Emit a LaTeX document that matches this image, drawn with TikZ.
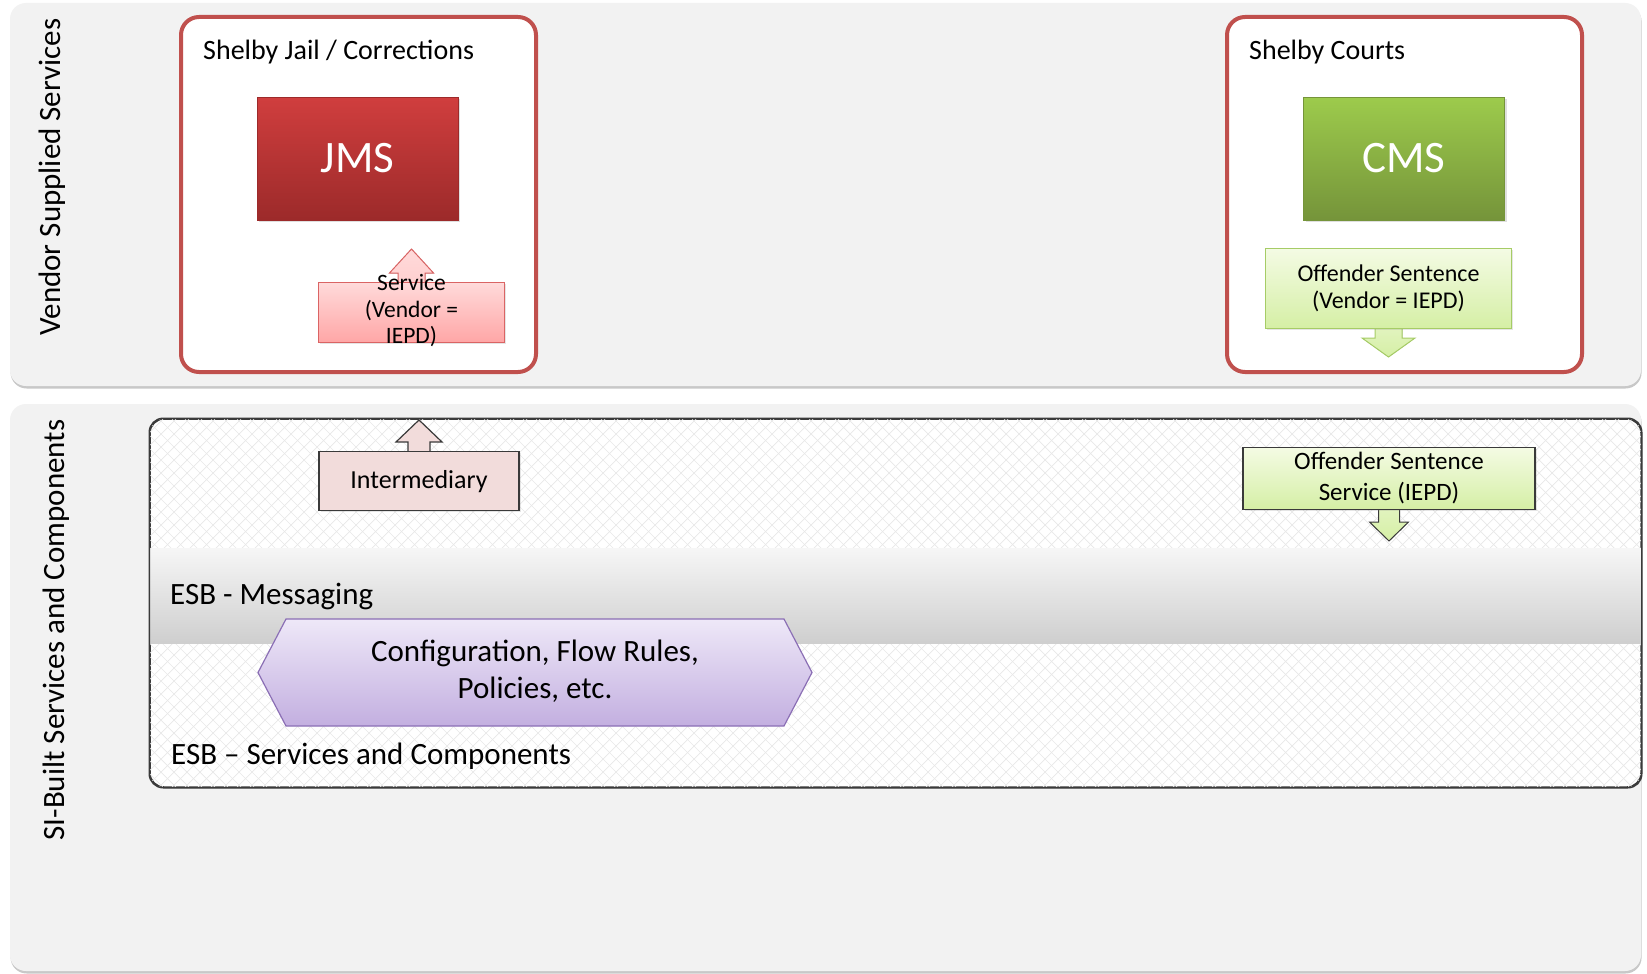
\documentclass[tikz,border=0pt]{standalone}
\usepackage{fontspec}
\setmainfont{Carlito}
\usetikzlibrary{calc,shadows}

\definecolor{panelgray}{HTML}{F2F2F2}
\definecolor{orgred}{HTML}{C0504D}
\definecolor{jmstop}{HTML}{D03E3E}
\definecolor{jmsbot}{HTML}{9C2A2A}
\definecolor{cmstop}{HTML}{9DCB4C}
\definecolor{cmsbot}{HTML}{75943A}
\definecolor{svctop}{HTML}{FFDADA}
\definecolor{svcbot}{HTML}{FFA6A6}
\definecolor{svcline}{HTML}{DA6464}
\definecolor{offtop}{HTML}{F4FBE4}
\definecolor{offbot}{HTML}{D5EFA5}
\definecolor{offline}{HTML}{A6CC66}
\definecolor{intfill}{HTML}{F2DCDB}
\definecolor{esbline}{HTML}{3A3A3A}
\definecolor{cfgtop}{HTML}{EEE8F8}
\definecolor{cfgbot}{HTML}{C3AFE0}
\definecolor{cfgline}{HTML}{8B6FB5}
\definecolor{hatchgray}{HTML}{E8E8E8}

\newcommand{\fsz}[2]{\fontsize{#1pt}{#2pt}\selectfont}

\begin{document}
\begin{tikzpicture}[x=1pt,y=-1pt,
  panel/.style={fill=panelgray,rounded corners=16pt,
    drop shadow={shadow xshift=0.6pt,shadow yshift=-2.5pt,opacity=0.3,fill=black!70}},
  org/.style={draw=orgred,line width=4pt,fill=white,rounded corners=18pt,
    minimum width=355pt,minimum height=355pt,inner sep=0pt},
  orgtitle/.style={anchor=west,inner sep=0pt,font=\fsz{28}{32}},
  sysbox/.style={minimum width=201pt,minimum height=123pt,inner sep=0pt,
    text=white,font=\fsz{45}{50},
    drop shadow={shadow xshift=2pt,shadow yshift=-2pt,opacity=0.25}},
  callout/.style={inner sep=0pt,align=center,font=\fsz{24}{26.5},
    drop shadow={shadow xshift=1.5pt,shadow yshift=-1.5pt,opacity=0.2}},
  hatch/.style={draw=hatchgray,line width=0.7pt},
  esbtext/.style={anchor=west,inner sep=0pt,font=\fsz{31}{35}},
  sidetext/.style={rotate=90,inner sep=0pt,font=\fsz{31}{35}}
]
  \useasboundingbox (0,0) rectangle (1647,974);
  \fill[white] (0,0) rectangle (1647,974);

  % the two bands
  \path[panel] (10,3) rectangle (1641,386);
  \path[panel] (10,404) rectangle (1641,971);
  \node[sidetext] (vendorlbl) at (52,177) {Vendor Supplied Services};
  \node[sidetext] (silbl) at (56,630) {SI-Built Services and Components};

  % Shelby Jail
  \node[org] (jail) at (358.5,194.5) {};
  \node[orgtitle] (jailtitle) at (203,52) {Shelby Jail / Corrections};
  \node[sysbox,top color=jmstop,bottom color=jmsbot,draw=jmsbot] (jms) at (357.5,158.5) {JMS};
  \coordinate (svcbase) at (411.5,282);
  \filldraw[draw=svcline,top color=svctop,bottom color=svctop!80!svcbot,line width=1pt]
    (svcbase) ++(-13.5,1) -- ++(0,-10) -- ++(-8.5,0) -- ++(22,-24)
    -- ++(22,24) -- ++(-8.5,0) -- ++(0,10) -- cycle;
  \node[callout,anchor=north,draw=svcline,line width=1pt,top color=svctop,bottom color=svcbot,
    minimum width=186pt,minimum height=60pt] (svc) at (svcbase) {};
  \node[inner sep=0pt,align=center,font=\fsz{23.5}{26.5}] (svctext) at (411.5,311) {Service\\(Vendor =\\IEPD)};

  % Shelby Courts
  \node[org] (courts) at (1404.5,194.5) {};
  \node[orgtitle] (courtstitle) at (1249,52) {Shelby Courts};
  \node[sysbox,top color=cmstop,bottom color=cmsbot,draw=cmsbot] (cms) at (1404,158.5) {CMS};
  \coordinate (offbase) at (1388.5,329);
  \filldraw[draw=offline,top color=offtop!40!offbot,bottom color=offbot,line width=1pt]
    (offbase) ++(-13.5,-1) -- ++(0,10) -- ++(-13,0) -- ++(26.5,19)
    -- ++(26.5,-19) -- ++(-13,0) -- ++(0,-10) -- cycle;
  \node[callout,anchor=south,draw=offline,line width=1pt,top color=offtop,bottom color=offbot,
    minimum width=246pt,minimum height=80pt] (offsent) at (offbase) {Offender Sentence\\(Vendor = IEPD)};

  % ESB
  \node[draw=esbline,line width=1.5pt,rounded corners=14pt,fill=white,
    minimum width=1491pt,minimum height=368pt,inner sep=0pt,
    drop shadow={shadow xshift=1.5pt,shadow yshift=-1.5pt,opacity=0.25}] (esb) at (895.5,603) {};
  \begin{scope}
    \clip[rounded corners=14pt] (esb.north west) rectangle (esb.south east);
    \foreach \k in {0,13,...,1872} {
      \draw[hatch] (\k-218,419) -- ++(368,368);
      \draw[hatch] (\k+150,419) -- ++(-368,368);
    }
  \end{scope}
  \node[top color=gray!7,bottom color=gray!38,minimum width=1491pt,minimum height=95pt,
    inner sep=0pt] (msgband) at (895.5,595.5) {};
  \draw[esbline,line width=1.5pt,rounded corners=14pt] (esb.north west) rectangle (esb.south east);
  \node[esbtext] (msglbl) at (170,596) {ESB - Messaging};

  \coordinate (intbase) at (419,451);
  \filldraw[draw=esbline,fill=intfill,line width=1.2pt]
    (intbase) ++(-11,1) -- ++(0,-10) -- ++(-12,0) -- ++(23,-22)
    -- ++(23,22) -- ++(-12,0) -- ++(0,10) -- cycle;
  \node[callout,anchor=north,draw=esbline,line width=1.2pt,fill=intfill,
    minimum width=200pt,minimum height=59pt,font=\fsz{26}{30}] (interm) at (intbase) {Intermediary};

  \coordinate (offsvcbase) at (1389,510);
  \filldraw[draw=esbline,top color=offtop!40!offbot,bottom color=offbot,line width=1pt]
    (offsvcbase) ++(-10.5,-1) -- ++(0,13) -- ++(-9,0) -- ++(19.5,19)
    -- ++(19.5,-19) -- ++(-9,0) -- ++(0,-13) -- cycle;
  \node[callout,anchor=south,draw=esbline,line width=1.2pt,top color=offtop,bottom color=offbot,
    minimum width=292pt,minimum height=62pt,font=\fsz{25}{31}] (offsvc) at (offsvcbase) {Offender Sentence\\Service (IEPD)};

  \shadedraw[top color=cfgtop,bottom color=cfgbot,draw=cfgline,line width=1.2pt]
    (258,672.5) -- (286,619) -- (784,619) -- (812,672.5) -- (784,726) -- (286,726) -- cycle;
  \node[align=center,inner sep=0pt,font=\fsz{31}{37}] (cfg) at (535,671) {Configuration, Flow Rules,\\Policies, etc.};
  \node[esbtext] (svclbl) at (171,756) {ESB – Services and Components};
\end{tikzpicture}
\end{document}
